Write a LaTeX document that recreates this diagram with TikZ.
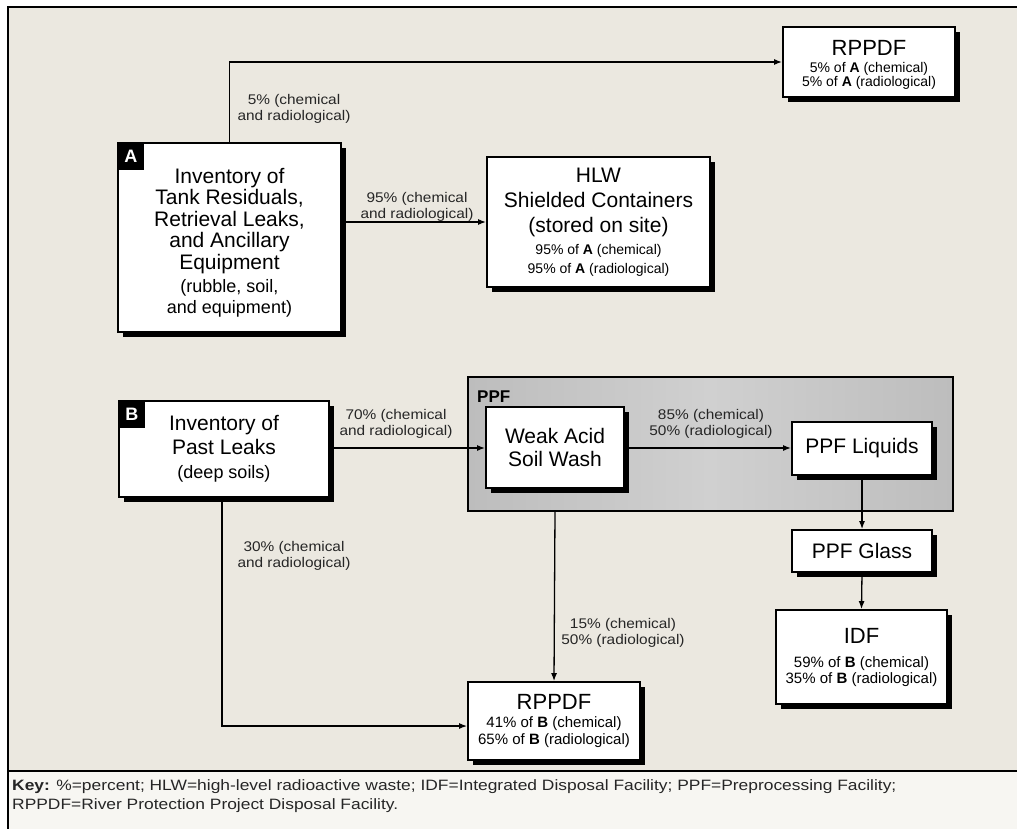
\documentclass[tikz,border=0pt]{standalone}
\usepackage{fontspec}
\setmainfont{Liberation Sans}
\newfontfamily\lblfam[FakeStretch=1.1]{Liberation Sans}
\newfontfamily\keyfam[FakeStretch=1.16]{Liberation Sans}
\usetikzlibrary{arrows.meta,shadows}
\definecolor{bgbeige}{HTML}{EBE8E0}
\definecolor{keybg}{HTML}{F7F6F2}
\definecolor{ppfgray}{HTML}{BDBDBD}
\definecolor{ppflight}{HTML}{D0D0D0}
\newcommand\titlefnt{\fontsize{22}{22}\selectfont}
\newcommand\parfnt{\fontsize{18}{22}\selectfont}
\newcommand\lblfnt{\lblfam\fontsize{14}{16.5}\selectfont}
\begin{document}
\begin{tikzpicture}[x=1pt,y=-1pt,
  box/.style={draw=black, line width=1.8pt, fill=white, align=center, inner sep=0pt,
    drop shadow={shadow xshift=5pt,shadow yshift=-5pt,fill=black,opacity=1}},
  tag/.style={fill=black, text=white, font=\fontsize{18}{20}\selectfont\bfseries, inner sep=0pt,
    minimum width=27pt, minimum height=28pt, anchor=north west},
  conn/.style={line width=1.3pt, -{Latex[length=8pt,width=6pt]}},
  flowlabel/.style={font=\lblfnt, align=center, text=black!85, inner sep=0pt}
]
\useasboundingbox (0,0) rectangle (1017,829);
\fill[white] (0,0) rectangle (1017,829);
\fill[bgbeige] (8,7) rectangle (1017,771);
\fill[keybg] (8,771) rectangle (1017,829);
\draw[line width=1.2pt] (8,829) -- (8,7) -- (1017,7);
\draw[line width=1.5pt] (8,771) -- (1017,771);

% PPF region
\node[draw=black, line width=1.5pt, left color=ppfgray, right color=ppfgray, middle color=ppflight,
  minimum width=485pt, minimum height=134pt, inner sep=0pt, anchor=north west] (ppf) at (467,376) {};
\node[font=\fontsize{17}{18}\selectfont\bfseries, anchor=west, inner sep=0pt] (ppflbl) at (477,397) {PPF};

% boxes
\node[box, minimum width=172pt, minimum height=70pt, font=\fontsize{14}{14}\selectfont] (rppdfA) at (869,62)
  {\rule{0pt}{20pt}{\titlefnt RPPDF}\\[3pt]5\% of \textbf{A} (chemical)\\5\% of \textbf{A} (radiological)};

\node[box, minimum width=223pt, minimum height=189pt, font=\fontsize{21}{21.5}\selectfont] (A) at (229.5,237.5)
  {\rule{0pt}{26pt}Inventory of\\Tank Residuals,\\Retrieval Leaks,\\and Ancillary\\Equipment\\[1.5pt]{\parfnt (rubble, soil,}\\{\parfnt and equipment)}};
\node[tag] (tagA) at (A.north west) {A};

\node[box, minimum width=223pt, minimum height=130pt, font=\fontsize{21}{25}\selectfont] (hlw) at (598.5,222)
  {HLW\\Shielded Containers\\(stored on site)\\[-2.5pt]{\fontsize{14}{16}\selectfont 95\% of \textbf{A} (chemical)}\\[-6pt]{\fontsize{14}{16}\selectfont 95\% of \textbf{A} (radiological)}};

\node[box, minimum width=210pt, minimum height=96pt, font=\fontsize{21}{23.5}\selectfont] (B) at (224,449)
  {Inventory of\\Past Leaks\\[1pt]{\parfnt (deep soils)}};
\node[tag] (tagB) at (B.north west) {B};

\node[box, minimum width=138pt, minimum height=81pt, font=\fontsize{21}{23}\selectfont] (weak) at (555,447.5)
  {Weak Acid\\Soil Wash};
\node[box, minimum width=140pt, minimum height=53pt, font=\fontsize{21}{23}\selectfont] (liq) at (862,448.5)
  {PPF Liquids};
\node[box, minimum width=140pt, minimum height=42pt, font=\fontsize{21}{23}\selectfont] (glass) at (862,551)
  {PPF Glass};
\node[box, minimum width=171pt, minimum height=94pt, font=\fontsize{15}{15.5}\selectfont] (idf) at (861.5,657)
  {{\titlefnt IDF}\\[9pt]59\% of \textbf{B} (chemical)\\35\% of \textbf{B} (radiological)};
\node[box, minimum width=172pt, minimum height=78pt, font=\fontsize{15}{17}\selectfont] (rppdfB) at (554,721)
  {{\titlefnt RPPDF}\\[0.5pt]41\% of \textbf{B} (chemical)\\65\% of \textbf{B} (radiological)};

% connectors
\draw[conn] (A.north) -- (A.north |- rppdfA.west) -- (rppdfA.west);
\draw[conn] (A.east |- hlw.west) -- (hlw.west);
\coordinate (bw) at (329,448);
\draw[conn] (B.east |- bw) -- (bw -| weak.west);
\draw[conn] (weak.east |- bw) -- (bw -| liq.west);
\draw[conn] (liq.south) -- (glass.north);
\draw[conn] (glass.south) -- (idf.north);
\draw[conn] (ppf.south -| weak.south) -- (rppdfB.north);
\coordinate (bd) at (222,726);
\draw[conn] (B.south -| bd) -- (bd) -- (bd -| rppdfB.west);

% flow labels
\node[flowlabel] (l1) at (294,109) {5\% (chemical\\and radiological)};
\node[flowlabel] (l2) at (417,207) {95\% (chemical\\and radiological)};
\node[flowlabel] (l3) at (396,424) {70\% (chemical\\and radiological)};
\node[flowlabel] (l4) at (711,424) {85\% (chemical)\\50\% (radiological)};
\node[flowlabel] (l5) at (294,556) {30\% (chemical\\and radiological)};
\node[flowlabel] (l6) at (623,633) {15\% (chemical)\\50\% (radiological)};

% key
\node[anchor=north west, align=left, inner sep=0pt, font=\keyfam\fontsize{15}{19}\selectfont, text=black!85] (key) at (12,779)
  {\textbf{Key:} \%=percent; HLW=high-level radioactive waste; IDF=Integrated Disposal Facility; PPF=Preprocessing Facility;\\RPPDF=River Protection Project Disposal Facility.};
\end{tikzpicture}
\end{document}
